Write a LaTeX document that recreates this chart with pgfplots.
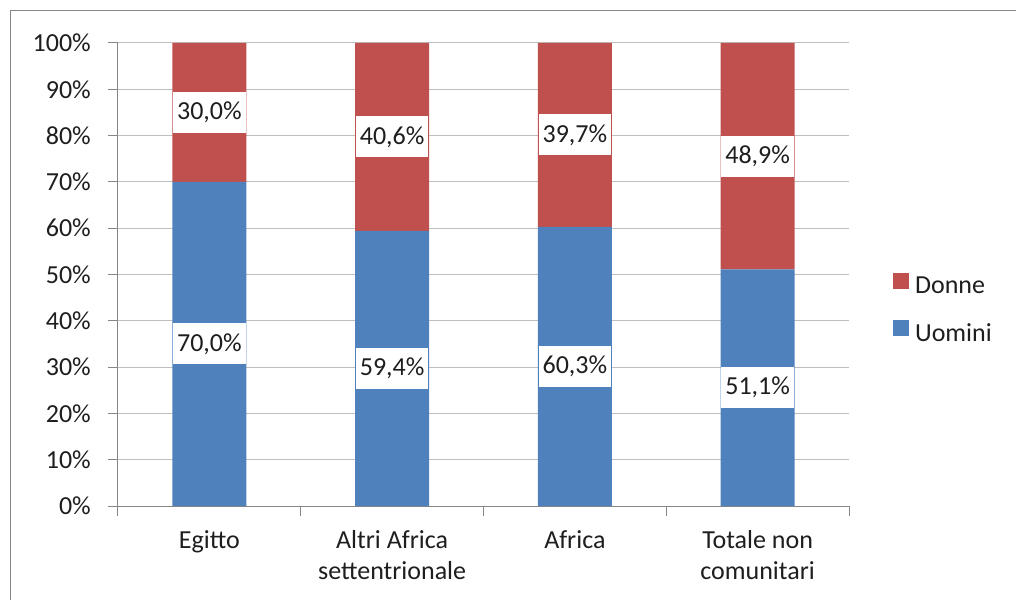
\documentclass[border=0pt]{standalone}
\usepackage{fontspec}
\setmainfont{Carlito}
\usepackage{pgfplots}
\usepackage{pgfplotstable}
\pgfplotsset{compat=1.18}
\definecolor{uomini}{HTML}{4F81BD}
\definecolor{donne}{HTML}{C0504D}
\definecolor{gridc}{HTML}{BFBFBF}
\definecolor{axisc}{HTML}{868686}
\definecolor{txt}{HTML}{1E1E1E}

% shares by category (0 Egitto, 1 Altri Africa sett., 2 Africa, 3 Totale non comunitari)
\pgfplotstableread{
x uomini donne
0 70.0 30.0
1 59.4 40.6
2 60.3 39.7
3 51.1 48.9
}\shares

% label positions (middle of each segment)
\pgfplotstableread{
x y lab
0 35.00 70,0\%
1 29.70 59,4\%
2 30.15 60,3\%
3 25.55 51,1\%
0 85.00 30,0\%
1 79.70 40,6\%
2 80.15 39,7\%
3 75.55 48,9\%
}\labs

\begin{document}
\fontsize{26bp}{31bp}\selectfont
\begin{tikzpicture}
\useasboundingbox (-118bp,-94bp) rectangle (898bp,506bp);
\draw[axisc, line width=1bp] (-107bp,-140bp) -- (-107bp,495bp) -- (940bp,495bp);
\begin{axis}[
    scale only axis,
    width=731bp, height=463bp,
    xmin=-0.5, xmax=3.5, ymin=0, ymax=100,
    ybar stacked, bar width=74bp,
    xtick={0,1,2,3},
    xticklabels={Egitto, {Altri Africa\\settentrionale}, Africa, {Totale non\\comunitari}},
    minor xtick={-0.5,0.5,1.5,2.5,3.5},
    ytick={0,10,...,100},
    yticklabel={\pgfmathprintnumber{\tick}\%},
    /pgf/number format/assume math mode=true,
    ymajorgrids, grid style={gridc, line width=1bp},
    axis x line*=bottom, axis y line*=left,
    axis line style={axisc, line width=1bp, -},
    tick align=outside, tick pos=left,
    major tick length=10bp, minor tick length=10bp,
    major tick style={axisc, line width=1bp},
    minor tick style={axisc, line width=1bp},
    major x tick style={draw=none},
    tick label style={text=txt},
    yticklabel style={inner sep=0pt, xshift=-17bp},
    xticklabel style={align=center, inner sep=0pt, yshift=-14bp,
        font=\fontsize{26bp}{31bp}\selectfont},
    legend style={at={(1.060,0.422)}, anchor=west, draw=none, fill=none,
        inner sep=0pt, row sep=19bp, text=txt,
        nodes={inner sep=3bp}},
    legend cell align=left,
    reverse legend,
    legend image code/.code={\fill[#1, draw=none] (0bp,-1bp) rectangle (16bp,15bp);},
    /tikz/every odd column/.append style={column sep=3bp},
]
\addplot[fill=uomini, draw=none] table[x=x, y=uomini] {\shares};
\addlegendentry{Uomini}
\addplot[fill=donne, draw=none] table[x=x, y=donne] {\shares};
\addlegendentry{Donne}
\end{axis}
\begin{axis}[
    scale only axis,
    width=731bp, height=463bp,
    xmin=-0.5, xmax=3.5, ymin=0, ymax=100,
    hide axis, clip=false,
]
\addplot[draw=none, mark=none, nodes near coords, point meta=explicit symbolic,
    every node near coord/.append style={anchor=center, fill=white, text=txt,
        inner xsep=4bp, minimum height=41bp}]
    table[x=x, y=y, meta=lab] {\labs};
\end{axis}
\end{tikzpicture}
\end{document}
